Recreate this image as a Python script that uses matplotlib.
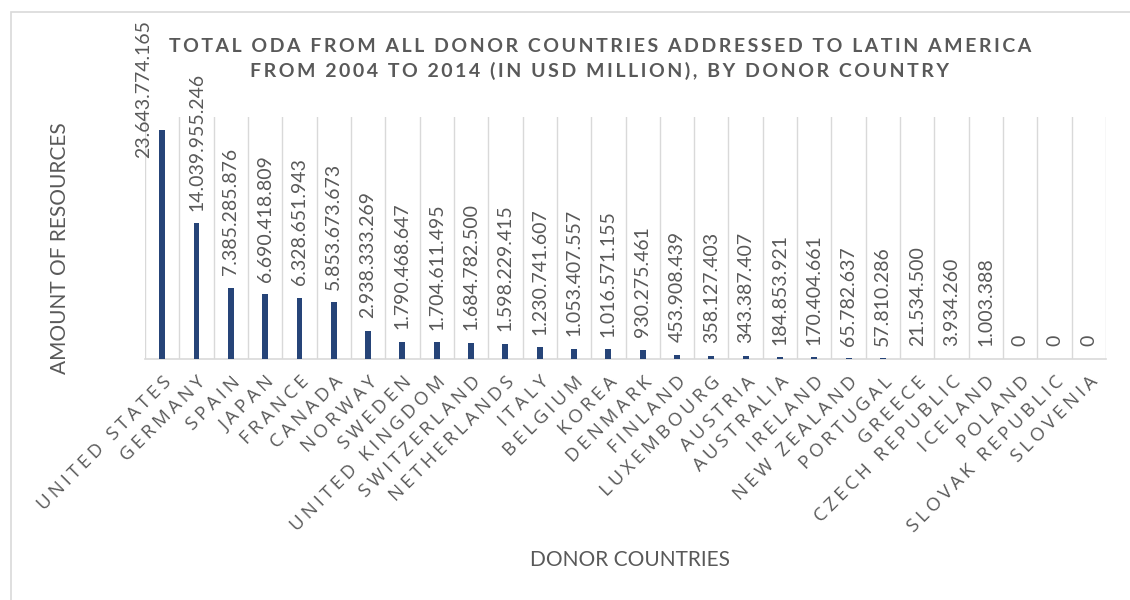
import matplotlib
matplotlib.use("Agg")
import matplotlib.pyplot as plt
import matplotlib.transforms as mtransforms
from matplotlib.patches import Rectangle

countries = ["UNITED STATES", "GERMANY", "SPAIN", "JAPAN", "FRANCE", "CANADA",
             "NORWAY", "SWEDEN", "UNITED KINGDOM", "SWITZERLAND", "NETHERLANDS",
             "ITALY", "BELGIUM", "KOREA", "DENMARK", "FINLAND", "LUXEMBOURG",
             "AUSTRIA", "AUSTRALIA", "IRELAND", "NEW ZEALAND", "PORTUGAL",
             "GREECE", "CZECH REPUBLIC", "ICELAND", "POLAND", "SLOVAK REPUBLIC",
             "SLOVENIA"]
values = [23643774165, 14039955246, 7385285876, 6690418809, 6328651943,
          5853673673, 2938333269, 1790468647, 1704611495, 1684782500,
          1598229415, 1230741607, 1053407557, 1016571155, 930275461,
          453908439, 358127403, 343387407, 184853921, 170404661, 65782637,
          57810286, 21534500, 3934260, 1003388, 0, 0, 0]

title = "TOTAL ODA FROM ALL DONOR COUNTRIES ADDRESSED TO LATIN AMERICA\nFROM 2004 TO 2014 (IN USD MILLION), BY DONOR COUNTRY"
xlabel = "DONOR COUNTRIES"
ylabel = "AMOUNT OF RESOURCES"

BAR = "#264478"
TXT = "#595959"
GRID = "#D9D9D9"
FONT = ["Lato", "DejaVu Sans"]
TICKFONT = ["Open Sans", "DejaVu Sans"]
HS = "\u200a"


def spaced(s, n=1):
    sep = HS * n
    return "\n".join(sep.join(line) for line in s.split("\n"))


def fmt(v):
    return "{:,}".format(v).replace(",", ".")


plt.rcParams["font.family"] = FONT
fig = plt.figure(figsize=(11.3, 6.0), dpi=100)
fig.patches.append(Rectangle((11 / 1130, -0.05), 1.2, 1 - 12 / 600 + 0.05,
                             transform=fig.transFigure, fill=False,
                             edgecolor=GRID, linewidth=1.2))

ax = fig.add_axes([145 / 1130, 1 - 359 / 600, (1106 - 145) / 1130, (359 - 117) / 600])
x = list(range(len(countries)))
ax.bar(x, values, width=0.17, color=BAR, zorder=3)
ax.set_xlim(-0.5, len(countries) - 0.5)
ax.set_ylim(0, 25e9)

for b in range(len(countries) + 1):
    ax.axvline(b - 0.5, color=GRID, linewidth=1.0, zorder=1)
for s in ["top", "right", "left"]:
    ax.spines[s].set_visible(False)
ax.spines["bottom"].set_color(GRID)
ax.spines["bottom"].set_linewidth(1.2)
ax.set_yticks([])
ax.tick_params(axis="x", length=0, pad=10)
ax.set_xticks(x)
ax.set_xticklabels([spaced(c, 2) for c in countries], rotation=45, ha="right",
                   va="top", rotation_mode="anchor", fontsize=13.5, color=TXT,
                   family=TICKFONT)

# data labels
blend = mtransforms.blended_transform_factory(ax.transData, fig.transFigure)
for i, v in enumerate(values):
    if i == 0:
        # first label does not fit above its bar: pinned to chart top, left of bar
        ax.text(i - 0.55, 1 - 20 / 600, fmt(v), transform=blend,
                rotation=90, ha="center", va="top", fontsize=14, color=TXT)
    else:
        ax.annotate(fmt(v), xy=(i, v), xytext=(0, 9), textcoords="offset points",
                    rotation=90, ha="center", va="bottom", fontsize=14, color=TXT)

fig.text(600 / 1130, 1 - 59 / 600, spaced(title, 2), ha="center", va="center",
         fontsize=14, fontweight="bold", color=TXT, linespacing=1.4)
fig.text(630 / 1130, 1 - 560 / 600, xlabel, ha="center", va="center",
         fontsize=15, color=TXT)
fig.text(60 / 1130, 1 - 248 / 600, ylabel, ha="center", va="center",
         rotation=90, fontsize=15, color=TXT)

fig.savefig("out.png", dpi=100)
